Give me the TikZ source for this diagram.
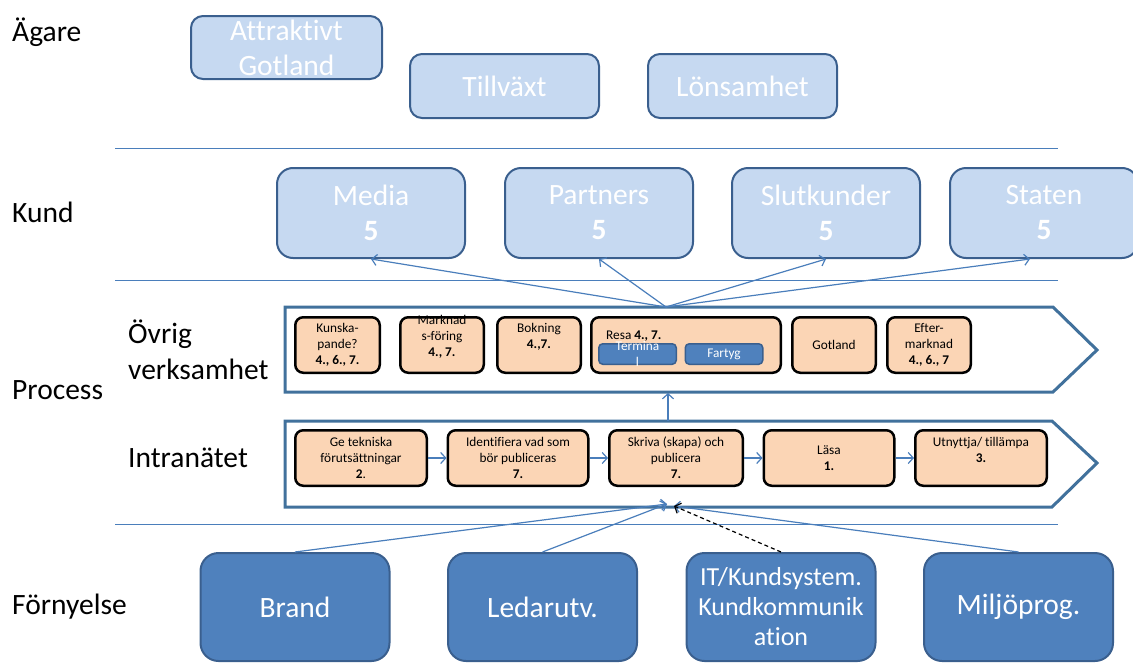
\documentclass[tikz,border=0pt]{standalone}
\usepackage{fontspec}
\setmainfont[Ligatures=NoCommon]{Carlito}
\usepackage{tikz}
\usetikzlibrary{arrows.meta}
\usetikzlibrary{positioning}
\definecolor{lightbox}{HTML}{C6D9F1}
\definecolor{darkbox}{HTML}{4F81BD}
\definecolor{boxedge}{HTML}{3A5F8E}
\definecolor{peach}{HTML}{FBD5B5}
\definecolor{chevron}{HTML}{41719C}
\definecolor{rulecol}{HTML}{4A7EBB}

\begin{document}
\begin{tikzpicture}[x=1pt, y=-1pt,
    bigfont/.style={font=\fontsize{29.5}{35}\selectfont},
    smallfont/.style={font=\fontsize{13.3}{16}\selectfont},
    lbl/.style={bigfont, anchor=west, inner sep=0pt, align=left},
    goal/.style={draw=boxedge, fill=lightbox, line width=2pt, rounded corners=12pt, text=white, bigfont, align=center, inner sep=0pt},
    renewbox/.style={draw=boxedge, fill=darkbox, line width=2pt, rounded corners=18pt, text=white, bigfont, align=center, inner sep=0pt, minimum width=189pt, minimum height=108pt},
    task/.style={draw=black, fill=peach, line width=2.5pt, rounded corners=8pt, smallfont, align=center, inner sep=0pt, minimum height=55.5pt},
    uptext/.style={label={[smallfont, align=center, yshift=8pt]center:#1}},
    part/.style={draw=boxedge, fill=darkbox, line width=1.5pt, rounded corners=4pt, text=white, smallfont, minimum width=77.5pt, minimum height=20.5pt, inner sep=0pt},
    flow/.style={draw=rulecol, line width=1.2pt, -{Straight Barb[length=5pt,width=11pt]}},
    dashflow/.style={draw=black, line width=1.2pt, dash pattern=on 4pt off 3pt, -{Straight Barb[length=5pt,width=11pt]}},
    divider/.style={draw=rulecol, line width=1pt},
    chev/.style={draw=chevron, line width=3pt, fill=white}]
    \useasboundingbox (0,0) rectangle (1133,664);

    \draw[chev] (285,307) -- (1053,307) -- (1097,350) -- (1053,392) -- (285,392) -- cycle;
    \draw[chev] (285,421) -- (1052,421) -- (1097,463) -- (1052,507) -- (285,507) -- cycle;
    \draw[divider] (115,148) -- (1058,148);
    \draw[divider] (115,280) -- (1058,280);
    \draw[divider] (115,524) -- (1058,524);

    \node[lbl] (agare) at (12,32) {Ägare};
    \node[lbl] (kund) at (12,212) {Kund};
    \node[lbl, font=\fontsize{29.5}{36}\selectfont] (ovrig) at (128,350) {Övrig\\verksamhet};
    \node[lbl] (process) at (12,390) {Process};
    \node[lbl] (intranet) at (128,458) {Intranätet};
    \node[lbl] (fornyelse) at (12,607) {Förnyelse};

    \node[goal, minimum width=191pt, minimum height=63pt] (attraktivt) at (286.5,47.5) {Attraktivt\\Gotland};
    \node[goal, minimum width=189pt, minimum height=64pt] (tillvaxt) at (504.5,86) {Tillväxt};
    \node[goal, minimum width=189pt, minimum height=64pt] (lonsamhet) at (742.5,86) {Lönsamhet};

    \node[goal, rounded corners=16pt, minimum width=188pt, minimum height=90pt] (media) at (371,213) {Media\\\textbf{5}};
    \node[goal, rounded corners=16pt, minimum width=188pt, minimum height=90pt, right=38pt of media] (partners) {Partners\\\textbf{5}};
    \node[goal, rounded corners=16pt, minimum width=188pt, minimum height=90pt, right=37pt of partners] (slutkunder) {Slutkunder\\\textbf{5}};
    \node[goal, rounded corners=16pt, minimum width=188pt, minimum height=90pt, right=28pt of slutkunder] (staten) {Staten\\\textbf{5}};

    \node[task, minimum width=84.5pt] (kunskap) at (337.5,345) {Kunska-\\pande?\\\textbf{4., 6., 7.}};
    \node[task, minimum width=83.5pt, uptext={Marknad\\s-föring\\\textbf{4., 7.}}] (marknad) at (442,345) {};
    \node[task, minimum width=83.5pt, uptext={Bokning\\\textbf{4.,7.}}] (bokning) at (539,345) {};
    \node[task, minimum width=189.5pt] (resa) at (686,345) {};
    \node[smallfont, anchor=west, inner sep=0pt] (resatext) at (606,336) {Resa \textbf{4., 7.}};
    \node[part, label={[smallfont, text=white, align=center]center:{Termina\\l}}] (terminal) at (637.5,354) {};
    \node[part] (fartyg) at (724,354) {Fartyg};
    \node[task, minimum width=83.5pt] (gotland) at (834,345) {Gotland};
    \node[task, minimum width=83.5pt] (efter) at (929,345) {Efter-\\marknad\\\textbf{4., 6., 7}};

    \node[task, minimum width=131.5pt] (tekniska) at (361,458) {Ge tekniska\\förutsättningar\\\textbf{2}.};
    \node[task, minimum width=140.5pt, right=18.5pt of tekniska] (identifiera) {Identifiera vad som\\bör publiceras\\\textbf{7.}};
    \node[task, minimum width=133.5pt, right=18.5pt of identifiera] (skriva) {Skriva (skapa) och\\publicera\\\textbf{7.}};
    \node[task, minimum width=130.5pt, right=18.5pt of skriva] (lasa) {Läsa\\\textbf{1.}};
    \node[task, minimum width=131.5pt, right=18.5pt of lasa, uptext={Utnyttja/ tillämpa\\\textbf{3.}}] (utnyttja) {};

    \node[renewbox] (brand) at (295,607) {Brand};
    \node[renewbox] (ledar) at (542.5,607) {Ledarutv.};
    \node[renewbox, font=\fontsize{26}{30}\selectfont] (itsys) at (781,607) {IT/Kundsystem.\\Kundkommunik\\ation};
    \node[renewbox] (miljo) at (1018.5,607) {Miljöprog.};

    \coordinate (hub) at (666,307);
    \coordinate (procbot) at (668,393);
    \coordinate (intrtop) at (668,421);
    \coordinate (inleft) at (667,504);
    \coordinate (inright) at (674,506);

    \draw[flow] (hub) -- (media.south);
    \draw[flow] (hub) -- (partners.south);
    \draw[flow] (hub) -- (slutkunder.south);
    \draw[flow] (hub) -- ([xshift=-14pt]staten.south);
    \draw[flow] (intrtop) -- (procbot);
    \draw[flow] (tekniska) -- (identifiera);
    \draw[flow] (identifiera) -- (skriva);
    \draw[flow] (skriva) -- (lasa);
    \draw[flow] (lasa) -- (utnyttja);
    \draw[flow] (brand.north) -- (inleft);
    \draw[flow] (ledar.north) -- (inleft);
    \draw[flow] (miljo.north) -- (inright);
    \draw[dashflow] (itsys.north) -- (inright);
\end{tikzpicture}
\end{document}
